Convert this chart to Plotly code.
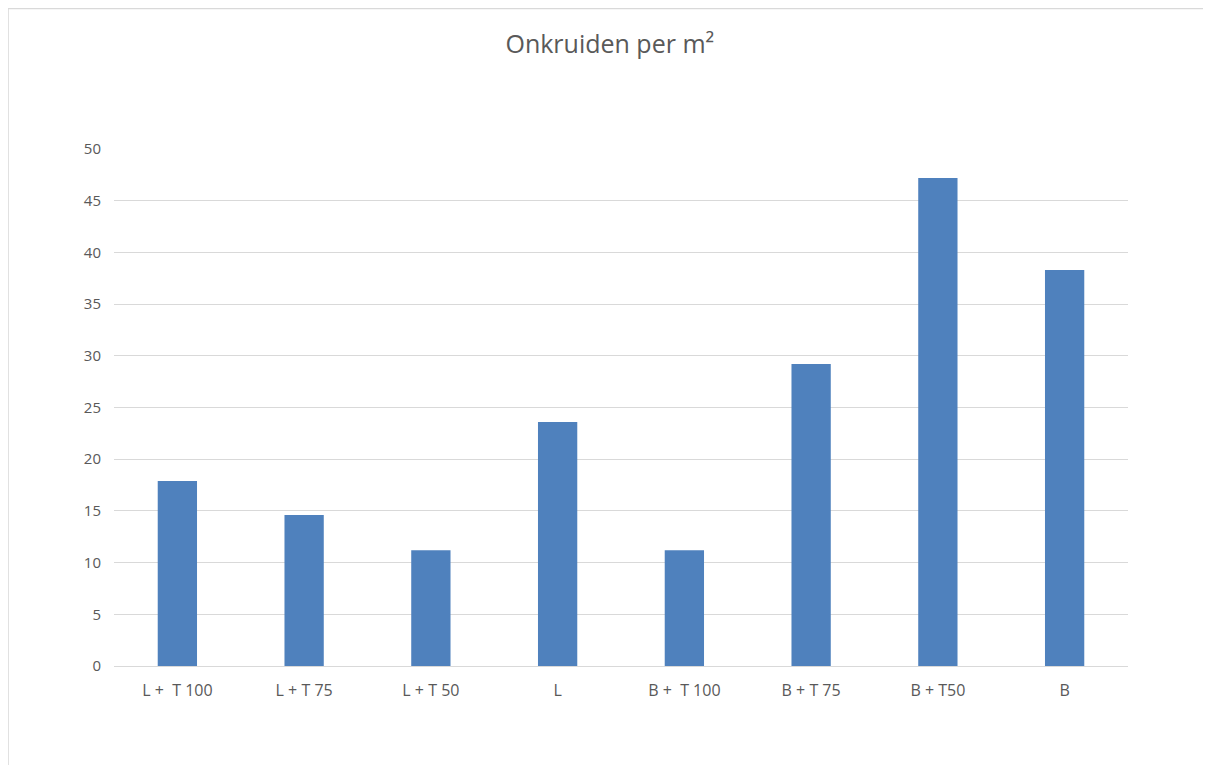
import plotly.graph_objects as go

categories = ['L +  T 100', 'L + T 75', 'L + T 50', 'L', 'B +  T 100', 'B + T 75', 'B + T50', 'B']
onkruiden = [17.9, 14.6, 11.2, 23.6, 11.2, 29.2, 47.2, 38.3]
y_ticks = [0, 5, 10, 15, 20, 25, 30, 35, 40, 45, 50]

fig = go.Figure()
fig.add_trace(go.Bar(
    x=categories,
    y=onkruiden,
    marker=dict(color='#4F81BD', line=dict(width=0)),
    width=0.31,
))

# chart border (Excel style frame)
fig.add_shape(type='rect', xref='paper', yref='paper',
              x0=-0.1045, x1=1.1, y0=-0.3, y1=1.2718,
              line=dict(color='#d9d9d9', width=1.5), layer='below')

fig.update_layout(
    width=1211, height=765,
    margin=dict(l=106, r=91, t=141, b=107),
    paper_bgcolor='white', plot_bgcolor='white',
    font=dict(family='Open Sans, sans-serif', color='#595959', size=15),
    title=dict(text='Onkruiden per m²', x=0.497, xanchor='center', y=0.952, yanchor='middle',
               font=dict(size=25, color='#595959')),
    showlegend=False,
    xaxis=dict(showgrid=False, ticks='', showline=True, linecolor='#d9d9d9', linewidth=1,
               ticklabelstandoff=10, tickfont=dict(size=16)),
    yaxis=dict(range=[0, 50], tickvals=y_ticks, showgrid=True, gridcolor='#d9d9d9', gridwidth=1,
               zeroline=False, showline=False, ticks='', ticklabelstandoff=12,
               tickfont=dict(size=15)),
)

fig.write_html('out.html')
